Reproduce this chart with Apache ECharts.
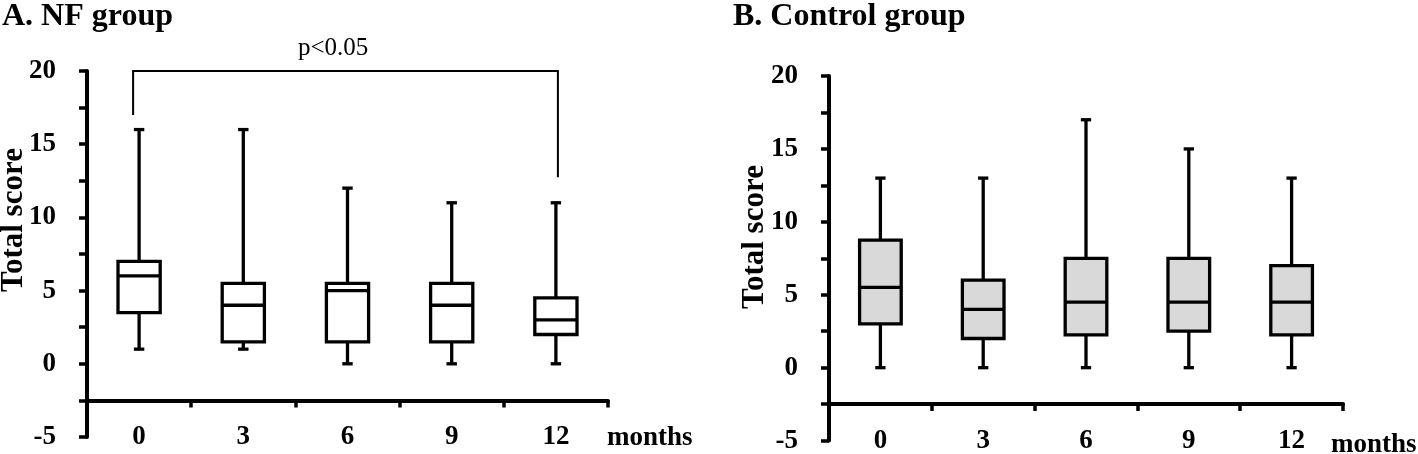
<!DOCTYPE html>
<html><head><meta charset="utf-8">
<script src="https://cdn.jsdelivr.net/npm/echarts@6/dist/echarts.min.js"></script>
<style>html,body{margin:0;padding:0;background:#fff}#c{width:1418px;height:454px}</style>
</head><body><div id="c"></div>
<script>
// ---- data ----
const months = ['0', '3', '6', '9', '12'];
const nfMin    = [1, 1, 0, 0, 0];
const nfQ1     = [3.5, 1.5, 1.5, 1.5, 2];
const nfMedian = [6, 4, 5, 4, 3];
const nfQ3     = [7, 5.5, 5.5, 5.5, 4.5];
const nfMax    = [16, 16, 12, 11, 11];
const ctrlMin    = [0, 0, 0, 0, 0];
const ctrlQ1     = [3, 2, 2.25, 2.5, 2.25];
const ctrlMedian = [5.5, 4, 4.5, 4.5, 4.5];
const ctrlQ3     = [8.75, 6, 7.5, 7.5, 7];
const ctrlMax    = [13, 13, 17, 15, 13];
// significance bracket: from month index, to month index; left end, top, right end values
const bracketIdx = [0, 4];
const bracketVal = [17, 20, 12.75];
const pLabel = 'p<0.05';
const yName = 'Total score';

const SERIF = "'Liberation Serif','Times New Roman',serif";

function boxData(mn, q1, md, q3, mx) {
  return months.map((m, i) => [i, mn[i], q1[i], md[i], q3[i], mx[i]]);
}

function boxRender(fill) {
  return function (params, api) {
    const x = api.value(0);
    const pMin = api.coord([x, api.value(1)]);
    const pQ1 = api.coord([x, api.value(2)]);
    const pMed = api.coord([x, api.value(3)]);
    const pQ3 = api.coord([x, api.value(4)]);
    const pMax = api.coord([x, api.value(5)]);
    const band = api.size([1, 0])[0];
    const bw = band * 0.405, cw = band * 0.1;
    const cx = pMin[0];
    const ls = { stroke: '#000', lineWidth: 3.3 };
    return {
      type: 'group',
      children: [
        { type: 'line', shape: { x1: cx, y1: pMin[1], x2: cx, y2: pQ1[1] }, style: ls },
        { type: 'line', shape: { x1: cx, y1: pQ3[1], x2: cx, y2: pMax[1] }, style: ls },
        { type: 'line', shape: { x1: cx - cw / 2, y1: pMin[1], x2: cx + cw / 2, y2: pMin[1] }, style: ls },
        { type: 'line', shape: { x1: cx - cw / 2, y1: pMax[1], x2: cx + cw / 2, y2: pMax[1] }, style: ls },
        { type: 'rect', shape: { x: cx - bw / 2, y: pQ3[1], width: bw, height: pQ1[1] - pQ3[1] },
          style: { fill: fill, stroke: '#000', lineWidth: 3.3 } },
        { type: 'line', shape: { x1: cx - bw / 2, y1: pMed[1], x2: cx + bw / 2, y2: pMed[1] }, style: ls }
      ]
    };
  };
}

function bracketRender(params, api) {
  const l = api.coord([api.value(0), api.value(2)]);
  const t = api.coord([api.value(0), api.value(3)]);
  const r = api.coord([api.value(1), api.value(4)]);
  const xl = l[0] - 6, xr = r[0] + 2;
  return {
    type: 'polyline',
    shape: { points: [[xl, l[1]], [xl, t[1]], [xr, t[1]], [xr, r[1]]] },
    style: { stroke: '#000', lineWidth: 2, fill: null }
  };
}

function xAxis(gi, off) {
  return {
    type: 'category', gridIndex: gi, data: months, position: 'bottom', offset: off,
    boundaryGap: true,
    axisLine: { show: true, onZero: false, lineStyle: { color: '#000', width: 4 } },
    axisTick: { show: true, length: 7, lineStyle: { color: '#000', width: 3.5 } },
    axisLabel: { margin: 23, color: '#000', fontFamily: SERIF, fontWeight: 'bold', fontSize: 27 },
    splitLine: { show: false }
  };
}
function yAxis(gi) {
  return {
    type: 'value', gridIndex: gi, min: -5, max: 20, interval: 5,
    axisLine: { show: true, onZero: false, lineStyle: { color: '#000', width: 4 } },
    axisTick: { show: true, length: 8, lineStyle: { color: '#000', width: 3.5 } },
    minorTick: { show: true, splitNumber: 2, length: 8, lineStyle: { color: '#000', width: 3.5 } },
    splitLine: { show: false }, minorSplitLine: { show: false },
    axisLabel: { margin: 31, color: '#000', fontFamily: SERIF, fontWeight: 'bold', fontSize: 27 }
  };
}

function rotName(x, y) {
  return { type: 'text', x: x, y: y, rotation: Math.PI / 2,
    style: { text: yName, font: 'bold 31px ' + SERIF, fill: '#000', align: 'center', verticalAlign: 'middle' } };
}

const chart = echarts.init(document.getElementById('c'), null, { renderer: 'canvas' });
chart.setOption({
  animation: false,
  backgroundColor: '#fff',
  grid: [
    { left: 87, top: 71, width: 521, height: 366, containLabel: false, outerBoundsMode: 'none' },
    { left: 829, top: 76, width: 514, height: 364.6, containLabel: false, outerBoundsMode: 'none' }
  ],
  xAxis: [xAxis(0, -36.6), xAxis(1, -36.5)],
  yAxis: [yAxis(0), yAxis(1)],
  graphic: [
    { type: 'text', left: 2, top: 1, style: { text: 'A. NF group', font: 'bold 32px ' + SERIF, fill: '#000' } },
    { type: 'text', left: 733, top: 1, style: { text: 'B. Control group', font: 'bold 32px ' + SERIF, fill: '#000' } },
    { type: 'text', left: 298, top: 36, style: { text: pLabel, font: '25px ' + SERIF, fill: '#000' } },
    { type: 'text', left: 607, top: 425, style: { text: 'months', font: 'bold 27px ' + SERIF, fill: '#000' } },
    { type: 'text', left: 1331, top: 432, style: { text: 'months', font: 'bold 27px ' + SERIF, fill: '#000' } },
    rotName(14, 220),
    rotName(755, 237)
  ],
  series: [
    { type: 'custom', xAxisIndex: 0, yAxisIndex: 0, renderItem: boxRender('#ffffff'),
      data: boxData(nfMin, nfQ1, nfMedian, nfQ3, nfMax), encode: { x: 0, y: [1, 2, 3, 4, 5] }, silent: true },
    { type: 'custom', xAxisIndex: 1, yAxisIndex: 1, renderItem: boxRender('#d9d9d9'),
      data: boxData(ctrlMin, ctrlQ1, ctrlMedian, ctrlQ3, ctrlMax), encode: { x: 0, y: [1, 2, 3, 4, 5] }, silent: true },
    { type: 'custom', xAxisIndex: 0, yAxisIndex: 0, renderItem: bracketRender, clip: false,
      data: [[bracketIdx[0], bracketIdx[1], bracketVal[0], bracketVal[1], bracketVal[2]]],
      encode: { x: [0, 1], y: [2, 3, 4] }, silent: true }
  ]
});
</script>
</body></html>
